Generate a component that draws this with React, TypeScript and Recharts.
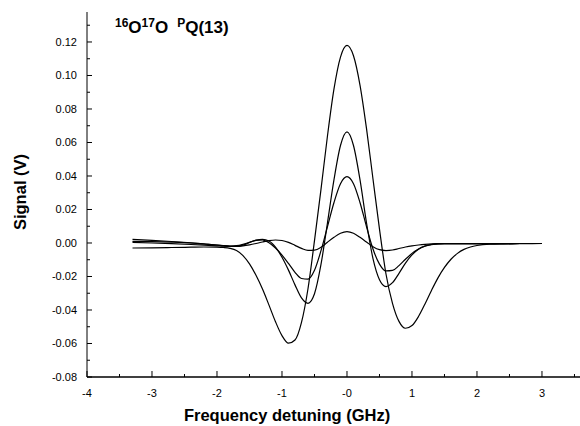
import { LineChart, Line, XAxis, YAxis } from 'recharts';

// detuning grid (GHz)
const freq = [
  -3.3, -3.0, -2.7, -2.4, -2.2, -2.0, -1.9, -1.8, -1.7, -1.6,
  -1.5, -1.4, -1.3, -1.2, -1.1, -1.0, -0.9, -0.8, -0.7, -0.6,
  -0.5, -0.4, -0.3, -0.2, -0.1, 0, 0.1, 0.2, 0.3, 0.4,
  0.5, 0.6, 0.7, 0.8, 0.9, 1.0, 1.1, 1.2, 1.3, 1.4,
  1.5, 1.6, 1.7, 1.8, 1.9, 2.0, 2.2, 2.4, 2.7, 3.0,
];

// signal traces (V), largest to smallest
const signalA = [
  -0.0030, -0.0029, -0.0027, -0.0025, -0.0024, -0.0025, -0.0027, -0.0032, -0.0045, -0.0075,
  -0.0125, -0.0193, -0.0275, -0.0371, -0.0470, -0.0553, -0.0598, -0.0579, -0.0474, -0.0273,
  0.0014, 0.0320, 0.0640, 0.0920, 0.1110, 0.1180, 0.1118, 0.0943, 0.0684, 0.0382,
  0.0083, -0.0185, -0.0360, -0.0468, -0.0509, -0.0493, -0.0439, -0.0364, -0.0283, -0.0208,
  -0.0146, -0.0097, -0.0062, -0.0038, -0.0024, -0.0015, -0.0007, -0.0005, -0.0004, -0.0003,
];
const signalB = [
  0.0022, 0.0016, 0.0009, 0.0001, -0.0005, -0.0012, -0.0016, -0.0020, -0.0021, -0.0013,
  0.0003, 0.0017, 0.0022, 0.0012, -0.0025, -0.0085, -0.0162, -0.0250, -0.0328, -0.0360,
  -0.0303, -0.0128, 0.0121, 0.0378, 0.0582, 0.0663, 0.0582, 0.0378, 0.0121, -0.0093,
  -0.0219, -0.0260, -0.0237, -0.0181, -0.0120, -0.0071, -0.0037, -0.0018, -0.0009, -0.0005,
  -0.0004, -0.0004, -0.0004, -0.0004, -0.0004, -0.0004, -0.0004, -0.0004, -0.0003, -0.0003,
];
const signalC = [
  0.0010, 0.0008, 0.0005, 0.0000, -0.0006, -0.0012, -0.0016, -0.0018, -0.0016, -0.0008,
  0.0004, 0.0016, 0.0018, 0.0002, -0.0030, -0.0072, -0.0122, -0.0175, -0.0212, -0.0216,
  -0.0163, -0.0046, 0.0098, 0.0242, 0.0354, 0.0396, 0.0354, 0.0242, 0.0098, -0.0036,
  -0.0126, -0.0167, -0.0164, -0.0135, -0.0097, -0.0062, -0.0036, -0.0019, -0.0010, -0.0005,
  -0.0004, -0.0004, -0.0004, -0.0004, -0.0004, -0.0004, -0.0004, -0.0004, -0.0003, -0.0003,
];
const signalD = [
  0.0004, 0.0000, -0.0004, -0.0009, -0.0013, -0.0017, -0.0019, -0.0020, -0.0020, -0.0017,
  -0.0011, -0.0003, 0.0006, 0.0014, 0.0018, 0.0015, 0.0004, -0.0014, -0.0032, -0.0044,
  -0.0043, -0.0026, 0.0005, 0.0034, 0.0058, 0.0068, 0.0058, 0.0034, 0.0006, -0.0022,
  -0.0040, -0.0045, -0.0042, -0.0033, -0.0024, -0.0017, -0.0012, -0.0008, -0.0005, -0.0004,
  -0.0004, -0.0004, -0.0004, -0.0004, -0.0004, -0.0004, -0.0004, -0.0004, -0.0003, -0.0003,
];

const xMajorTicks = [-4, -3, -2, -1, 0, 1, 2, 3];
const xTickLabels = ['-4', '-3', '-2', '-1', '-0', '1', '2', '3'];
const xMinorTicks = [-3.5, -2.5, -1.5, -0.5, 0.5, 1.5, 2.5, 3.5];
const yMajorTicks = [-0.08, -0.06, -0.04, -0.02, 0, 0.02, 0.04, 0.06, 0.08, 0.1, 0.12];
const yMinorTicks = [-0.07, -0.05, -0.03, -0.01, 0.01, 0.03, 0.05, 0.07, 0.09, 0.11, 0.13];

const data = freq.map((f, i) => ({
  f,
  a: signalA[i],
  b: signalB[i],
  c: signalC[i],
  d: signalD[i],
}));

const FONT = '"Liberation Sans", Arial, Helvetica, sans-serif';

function XTick({ x, y, payload }: any) {
  const i = xMajorTicks.indexOf(payload.value);
  if (i < 0) return <line x1={x} x2={x} y1={y} y2={y - 3} stroke="#000" />;
  return (
    <g>
      <line x1={x} x2={x} y1={y} y2={y - 6} stroke="#000" />
      <text x={x} y={y + 20} textAnchor="middle" fontSize={11} fontFamily={FONT} fill="#000">
        {xTickLabels[i]}
      </text>
    </g>
  );
}

function YTick({ x, y, payload }: any) {
  const major = yMajorTicks.some((t) => Math.abs(t - payload.value) < 1e-9);
  if (!major) return <line x1={x} x2={x + 3} y1={y} y2={y} stroke="#000" />;
  return (
    <g>
      <line x1={x} x2={x + 5} y1={y} y2={y} stroke="#000" />
      <text x={x - 10} y={y + 4} textAnchor="end" fontSize={11} fontFamily={FONT} fill="#000">
        {payload.value.toFixed(2)}
      </text>
    </g>
  );
}

export default function App() {
  const xTicks = [...xMajorTicks, ...xMinorTicks].sort((p, q) => p - q);
  const yTicks = [...yMajorTicks, ...yMinorTicks].sort((p, q) => p - q);

  return (
    <div style={{ position: 'absolute', left: 0, top: 0, width: 580, height: 426, background: '#fff' }}>
      <LineChart width={580} height={426} data={data} margin={{ top: 12, right: 0, bottom: 0, left: 0 }}>
        <XAxis
          dataKey="f"
          type="number"
          domain={[-4, 3.585]}
          allowDataOverflow
          ticks={xTicks}
          interval={0}
          tick={<XTick />}
          tickLine={false}
          tickSize={0}
          tickMargin={0}
          height={49}
          axisLine={{ stroke: '#000', strokeWidth: 1.5 }}
        />
        <YAxis
          type="number"
          domain={[-0.08, 0.1379]}
          allowDataOverflow
          ticks={yTicks}
          interval={0}
          tick={<YTick />}
          tickLine={false}
          tickSize={0}
          tickMargin={0}
          width={87}
          axisLine={{ stroke: '#000', strokeWidth: 1 }}
        />
        <Line dataKey="a" type="monotone" stroke="#000" strokeWidth={1.2} dot={false} isAnimationActive={false} />
        <Line dataKey="b" type="monotone" stroke="#000" strokeWidth={1.2} dot={false} isAnimationActive={false} />
        <Line dataKey="c" type="monotone" stroke="#000" strokeWidth={1.2} dot={false} isAnimationActive={false} />
        <Line dataKey="d" type="monotone" stroke="#000" strokeWidth={1.2} dot={false} isAnimationActive={false} />
      </LineChart>
      <svg
        width={580}
        height={426}
        style={{ position: 'absolute', left: 0, top: 0, pointerEvents: 'none' }}
        fontFamily={FONT}
        fontWeight="bold"
        fill="#000"
      >
        <text x={115} y={33} fontSize={17}>
          <tspan fontSize={12} dy={-6}>16</tspan>
          <tspan dy={6}>O</tspan>
          <tspan fontSize={12} dy={-6}>17</tspan>
          <tspan dy={6}>O</tspan>
          <tspan fontSize={12} dy={-6} dx={9}>P</tspan>
          <tspan dy={6}>Q(13)</tspan>
        </text>
        <text x={287} y={421} fontSize={16.5} textAnchor="middle">
          Frequency detuning (GHz)
        </text>
        <text transform="translate(26,192) rotate(-90)" fontSize={16.5} textAnchor="middle">
          Signal (V)
        </text>
      </svg>
    </div>
  );
}
